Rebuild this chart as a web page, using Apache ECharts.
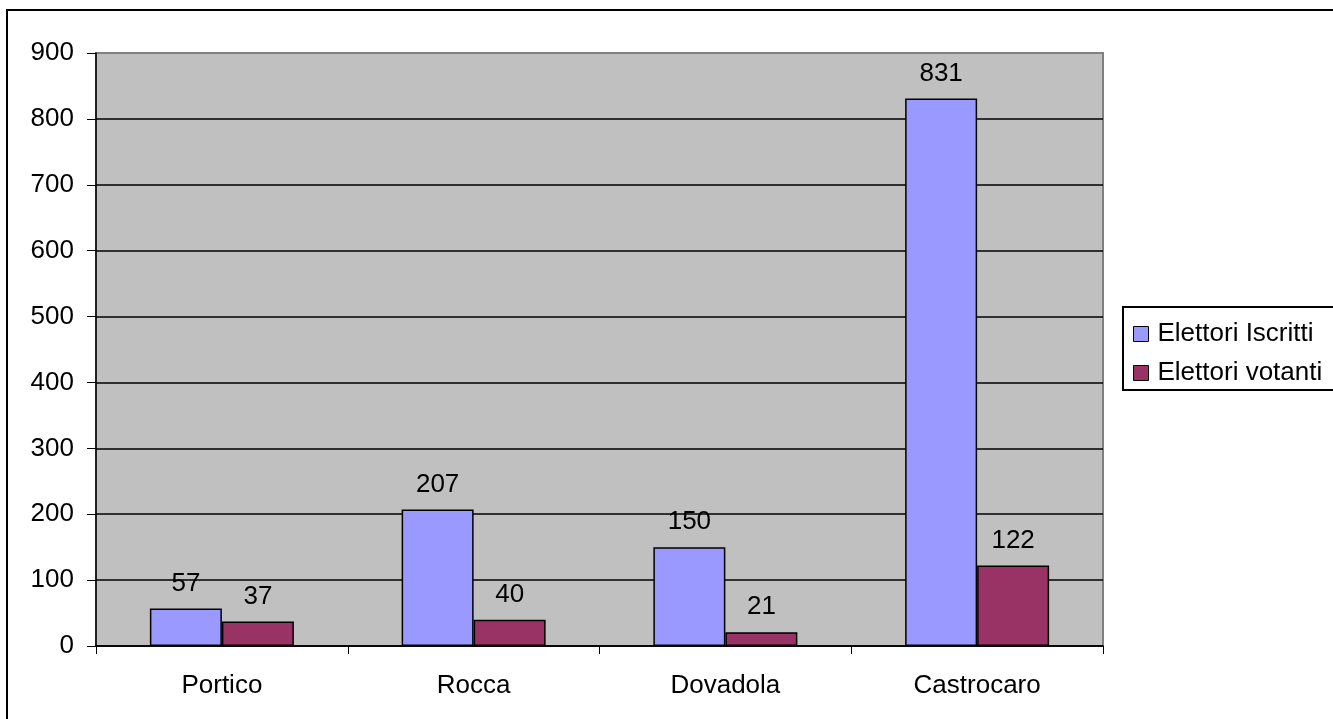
<!DOCTYPE html>
<html>
<head>
<meta charset="utf-8">
<script src="https://cdn.jsdelivr.net/npm/echarts@6/dist/echarts.min.js"></script>
<style>
html,body{margin:0;padding:0;background:#fff;}
#chart{width:1333px;height:719px;}
</style>
</head>
<body>
<div id="chart"></div>
<script>
const categories = ['Portico', 'Rocca', 'Dovadola', 'Castrocaro'];
const iscritti = [57, 207, 150, 831];
const votanti = [37, 40, 21, 122];
const seriesNames = ['Elettori Iscritti', 'Elettori votanti'];
const yTicks = { min: 0, max: 900, interval: 100 };

const FONT = 'Liberation Sans, Arial, sans-serif';
const chart = echarts.init(document.getElementById('chart'), null, { renderer: 'canvas' });

const splitColors = [];
for (let v = yTicks.min; v <= yTicks.max; v += yTicks.interval) {
  splitColors.push(v === yTicks.max ? '#808080' : '#000000');
}

chart.setOption({
  animation: false,
  backgroundColor: '#ffffff',
  textStyle: { fontFamily: FONT },
  graphic: [
    { type: 'rect', z: 100, shape: { x: 7, y: 10, width: 1400, height: 800 },
      style: { fill: 'none', stroke: '#000', lineWidth: 2 } },
    { type: 'rect', z: 100, shape: { x: 1123, y: 307, width: 300, height: 83 },
      style: { fill: 'none', stroke: '#000', lineWidth: 2 } }
  ],
  grid: {
    left: 96, top: 53, width: 1007, height: 593,
    show: true, backgroundColor: '#C0C0C0', borderColor: '#808080', borderWidth: 2
  },
  legend: {
    orient: 'vertical',
    left: 1128, top: 316,
    itemWidth: 15, itemHeight: 15, itemGap: 13,
    icon: 'rect',
    data: seriesNames,
    itemStyle: { borderColor: '#000', borderWidth: 1 },
    textStyle: { fontFamily: FONT, fontSize: 26, color: '#000', padding: [0, 0, 0, 4] }
  },
  xAxis: {
    type: 'category',
    data: categories,
    axisLine: { show: true, lineStyle: { color: '#000', width: 1.5 } },
    axisTick: { show: true, length: 8, lineStyle: { color: '#000' } },
    axisLabel: { fontFamily: FONT, fontSize: 26, color: '#000', margin: 27 },
    splitLine: { show: false }
  },
  yAxis: {
    type: 'value',
    min: yTicks.min, max: yTicks.max, interval: yTicks.interval,
    axisLine: { show: true, lineStyle: { color: '#000', width: 1.5 } },
    axisTick: { show: true, length: 9, lineStyle: { color: '#000' } },
    axisLabel: { fontFamily: FONT, fontSize: 26, color: '#000', margin: 22 },
    splitLine: { show: true, lineStyle: { color: splitColors, width: 1.5 } }
  },
  series: [
    {
      name: seriesNames[0], type: 'bar', data: iscritti,
      barWidth: 72, barGap: '0%',
      itemStyle: { color: '#9999FF', borderColor: '#000', borderWidth: 1.5 },
      label: { show: true, position: 'top', distance: 12, fontFamily: FONT, fontSize: 26, color: '#000' }
    },
    {
      name: seriesNames[1], type: 'bar', data: votanti,
      barWidth: 72, barGap: '0%',
      itemStyle: { color: '#993366', borderColor: '#000', borderWidth: 1.5 },
      label: { show: true, position: 'top', distance: 12, fontFamily: FONT, fontSize: 26, color: '#000' }
    }
  ]
});
</script>
</body>
</html>
